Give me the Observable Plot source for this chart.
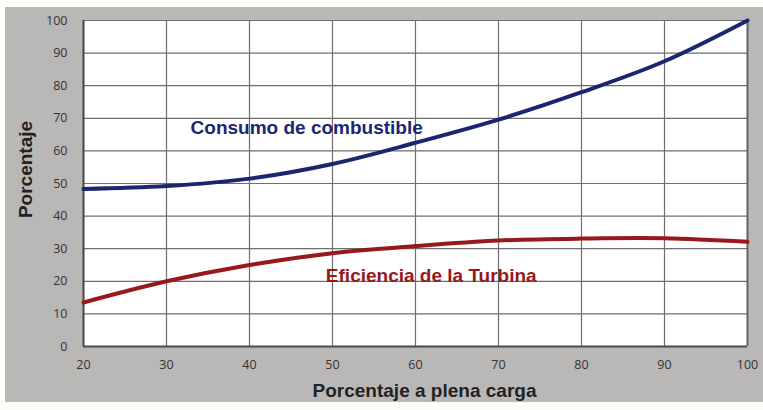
<!DOCTYPE html>
<html><head><meta charset="utf-8">
<script src="https://cdn.jsdelivr.net/npm/d3@7"></script>
<script src="https://cdn.jsdelivr.net/npm/@observablehq/plot@0.6"></script>
<style>
html,body{margin:0;padding:0;background:#fbfdf8;width:763px;height:410px;overflow:hidden;}
#panel{position:absolute;left:5px;top:7px;width:758px;height:395px;background:#bab7b7;}
#chart{position:absolute;left:0;top:0;}
</style></head>
<body><div id="panel"></div><div id="chart"></div>
<script>
const carga = [20, 30, 40, 50, 60, 70, 80, 90, 100];
const consumo = [48.3, 49.2, 51.5, 56, 62.5, 69.6, 78, 87.5, 100];
const eficiencia = [13.5, 20, 25, 28.6, 30.8, 32.5, 33.1, 33.2, 32.1];
const xTicks = [20, 30, 40, 50, 60, 70, 80, 90, 100];
const yTicks = [0, 10, 20, 30, 40, 50, 60, 70, 80, 90, 100];
const labels = [
  {text: "Consumo de combustible", x: 32.9, y: 67.2, color: "#1b2670"},
  {text: "Eficiencia de la Turbina", x: 49.2, y: 21.8, color: "#98181c"}
];
const dataC = carga.map((c, i) => ({x: c, y: consumo[i]}));
const dataE = carga.map((c, i) => ({x: c, y: eficiencia[i]}));
const titleFont = "'Liberation Sans', Arial, sans-serif";

const chart = Plot.plot({
  width: 763, height: 410,
  marginLeft: 83, marginRight: 16, marginTop: 20, marginBottom: 64,
  style: {background: "transparent", fontFamily: "'Open Sans', sans-serif", fontSize: "12.5px", color: "#333"},
  x: {domain: [20, 100], ticks: xTicks, label: null},
  y: {domain: [0, 100], ticks: yTicks, label: null},
  marks: [
    Plot.frame({fill: "white", stroke: null}),
    Plot.gridX(xTicks, {stroke: "#6e6e6e", strokeOpacity: 1, strokeWidth: 1.2}),
    Plot.gridY(yTicks, {stroke: "#6e6e6e", strokeOpacity: 1, strokeWidth: 1.2}),
    Plot.ruleX([20], {stroke: "#4a4a4a", strokeWidth: 2}),
    Plot.ruleY([0], {stroke: "#4a4a4a", strokeWidth: 2}),
    Plot.ruleX([100], {stroke: "#666", strokeWidth: 2}),
    Plot.axisX(xTicks, {tickSize: 0, tickPadding: 14, fontSize: 12.5, fill: "#333"}),
    Plot.axisY(yTicks, {tickSize: 0, tickPadding: 16, fontSize: 12.5, fill: "#333"}),
    Plot.line(dataC, {x: "x", y: "y", stroke: "#1b2670", strokeWidth: 4, curve: "catmull-rom"}),
    Plot.line(dataE, {x: "x", y: "y", stroke: "#98181c", strokeWidth: 4, curve: "catmull-rom"}),
    Plot.text(labels, {x: "x", y: "y", text: "text", fill: "color", textAnchor: "start",
      fontFamily: titleFont, fontWeight: "bold", fontSize: 19}),
    Plot.text(["Porcentaje a plena carga"], {frameAnchor: "bottom", textAnchor: "middle", dx: 9, dy: 50,
      fontFamily: titleFont, fontWeight: "bold", fontSize: 19, fill: "#222"}),
    Plot.text(["Porcentaje"], {frameAnchor: "left", textAnchor: "middle", dx: -58, dy: -14, rotate: -90,
      fontFamily: titleFont, fontWeight: "bold", fontSize: 19, fill: "#222"})
  ]
});
document.getElementById("chart").appendChild(chart);
</script></body></html>
